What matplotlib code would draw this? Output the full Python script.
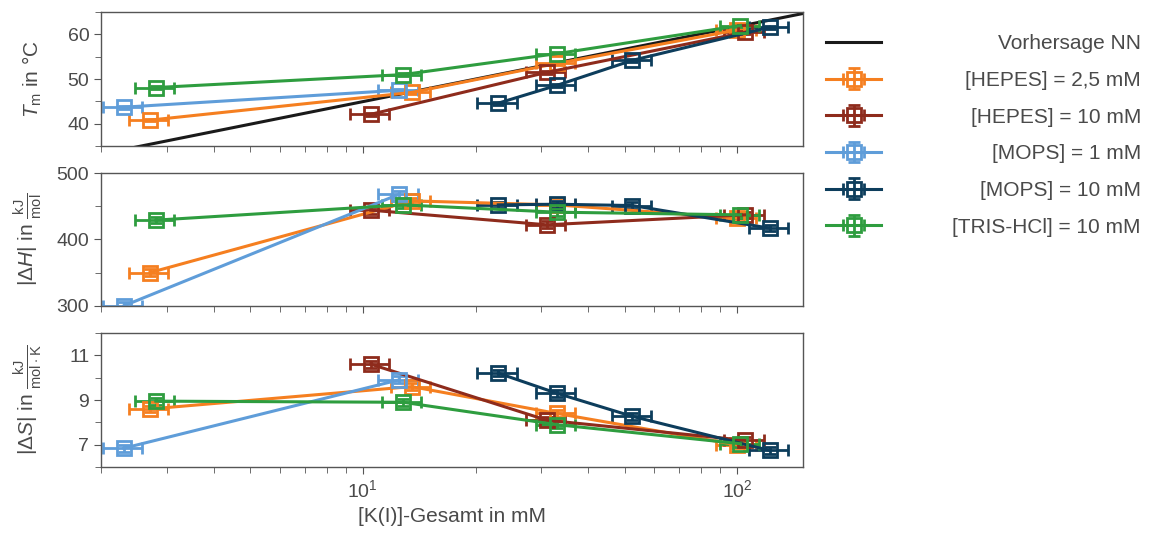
import numpy as np
import matplotlib.pyplot as plt
from matplotlib.ticker import MultipleLocator, LogLocator, NullFormatter, LogFormatterMathtext

plt.rcParams['font.family'] = ['Liberation Sans', 'DejaVu Sans']
plt.rcParams['mathtext.fontset'] = 'custom'
plt.rcParams['mathtext.rm'] = 'Liberation Sans'
plt.rcParams['mathtext.it'] = 'Liberation Sans:italic'
plt.rcParams['mathtext.bf'] = 'Liberation Sans:bold'

grey = '#4a4a4a'

# NN-Vorhersage (Gerade im log-Plot)
nn_k = [2, 150]
nn_tm = [33.2, 64.7]

# Messreihen: K-Konzentration in mM, Tm in °C, |dH| in kJ/mol, |dS| in kJ/(mol K)
hepes25_k = [2.7, 13.5, 33, 100]
hepes25_tm = [40.8, 47.0, 53.5, 61.0]
hepes25_dh = [350, 458, 452, 432]
hepes25_ds = [8.6, 9.6, 8.4, 7.0]

hepes10_k = [10.5, 31, 105]
hepes10_tm = [42.1, 51.5, 60.5]
hepes10_dh = [444, 422, 437]
hepes10_ds = [10.6, 8.1, 7.2]

mops1_k = [2.3, 12.5]
mops1_tm = [43.7, 47.5]
mops1_dh = [300, 468]
mops1_ds = [6.85, 9.9]

mops10_k = [23, 33, 52.5, 122]
mops10_tm = [44.6, 48.6, 54.2, 61.6]
mops10_dh = [452, 453, 451, 417]
mops10_ds = [10.2, 9.3, 8.27, 6.75]

tris_k = [2.8, 12.8, 33, 102]
tris_tm = [48.1, 51.0, 55.7, 62.0]
tris_dh = [429, 452, 441, 437]
tris_ds = [8.95, 8.9, 7.9, 7.05]

labels = ['[HEPES] = 2,5 mM', '[HEPES] = 10 mM', '[MOPS] = 1 mM',
          '[MOPS] = 10 mM', '[TRIS-HCl] = 10 mM']
colors = ['#f57f20', '#8e2b1c', '#5f9dd9', '#0d3d5c', '#2e9d3f']

k_rel_err = 0.12
tm_err = 0.3
dh_err = 5
ds_err = 0.15

series = [
    (hepes25_k, hepes25_tm, hepes25_dh, hepes25_ds),
    (hepes10_k, hepes10_tm, hepes10_dh, hepes10_ds),
    (mops1_k, mops1_tm, mops1_dh, mops1_ds),
    (mops10_k, mops10_tm, mops10_dh, mops10_ds),
    (tris_k, tris_tm, tris_dh, tris_ds),
]

fig = plt.figure(figsize=(11.49, 5.51), dpi=100)
ax1 = fig.add_axes([0.088, 0.735, 0.611, 0.243])
ax2 = fig.add_axes([0.088, 0.445, 0.611, 0.241], sharex=ax1)
ax3 = fig.add_axes([0.088, 0.152, 0.611, 0.244], sharex=ax1)
axes = [ax1, ax2, ax3]

ax1.plot(nn_k, nn_tm, color='#1a1a1a', lw=2.2, label='Vorhersage NN', zorder=1)

yerrs = [tm_err, dh_err, ds_err]
for (k, tm, dh, ds), lab, c in zip(series, labels, colors):
    k = np.array(k)
    xerr = k_rel_err * k
    for i, (ax, y) in enumerate(zip(axes, [tm, dh, ds])):
        ax.errorbar(k, y, xerr=xerr, yerr=yerrs[i], color=c, lw=2.2, elinewidth=2,
                    capsize=4.5, capthick=2, marker='s', ms=10, mfc='none', mew=2,
                    label=lab if i == 0 else None, zorder=2)

ax1.set_ylim(35, 65)
ax1.yaxis.set_major_locator(MultipleLocator(10))
ax1.yaxis.set_minor_locator(MultipleLocator(5))
ax2.set_ylim(300, 500)
ax2.yaxis.set_major_locator(MultipleLocator(100))
ax2.yaxis.set_minor_locator(MultipleLocator(50))
ax3.set_ylim(6, 12)
ax3.yaxis.set_major_locator(MultipleLocator(2, offset=1))
ax3.yaxis.set_minor_locator(MultipleLocator(1))

ax1.set_xscale('log')
ax1.set_xlim(2, 150)

for ax in axes:
    for s in ax.spines.values():
        s.set_color('#555555')
        s.set_linewidth(1)
    ax.tick_params(which='both', colors='#555555', labelcolor=grey, labelsize=14)
    ax.tick_params(which='major', length=5)
    ax.tick_params(which='minor', length=4)
    ax.xaxis.set_major_locator(LogLocator(base=10))
    ax.xaxis.set_minor_locator(LogLocator(base=10, subs=np.arange(2, 10)))
    ax.xaxis.set_minor_formatter(NullFormatter())
for ax in [ax1, ax2]:
    ax.tick_params(axis='x', which='both', labelbottom=False)
ax3.xaxis.set_major_formatter(LogFormatterMathtext())

ax1.set_ylabel(r'$T_\mathrm{m}$ in °C', fontsize=15, color=grey)
ax2.set_ylabel(r'$|\Delta H|$ in $\frac{\mathrm{kJ}}{\mathrm{mol}}$', fontsize=15, color=grey)
ax3.set_ylabel(r'$|\Delta S|$ in $\frac{\mathrm{kJ}}{\mathrm{mol\cdot K}}$', fontsize=15, color=grey)
ax3.set_xlabel('[K(I)]-Gesamt in mM', fontsize=15, color=grey)
for ax in axes:
    ax.yaxis.set_label_coords(-0.082, 0.5)

leg = ax1.legend(loc='upper left', bbox_to_anchor=(0.703, 0.972),
                 bbox_transform=fig.transFigure, frameon=False, fontsize=15,
                 handlelength=2.6, labelspacing=0.85, handletextpad=0.8)

# Legendentexte rechtsbündig setzen
fig.canvas.draw()
r = fig.canvas.get_renderer()
for t in leg.get_texts():
    bb = t.get_window_extent(r)
    yc = (bb.y0 + bb.y1) / 2 / fig.bbox.height
    fig.text(0.993, yc, t.get_text(), ha='right', va='center', fontsize=15, color=grey)
    t.set_visible(False)

fig.savefig('out.png', dpi=100)
